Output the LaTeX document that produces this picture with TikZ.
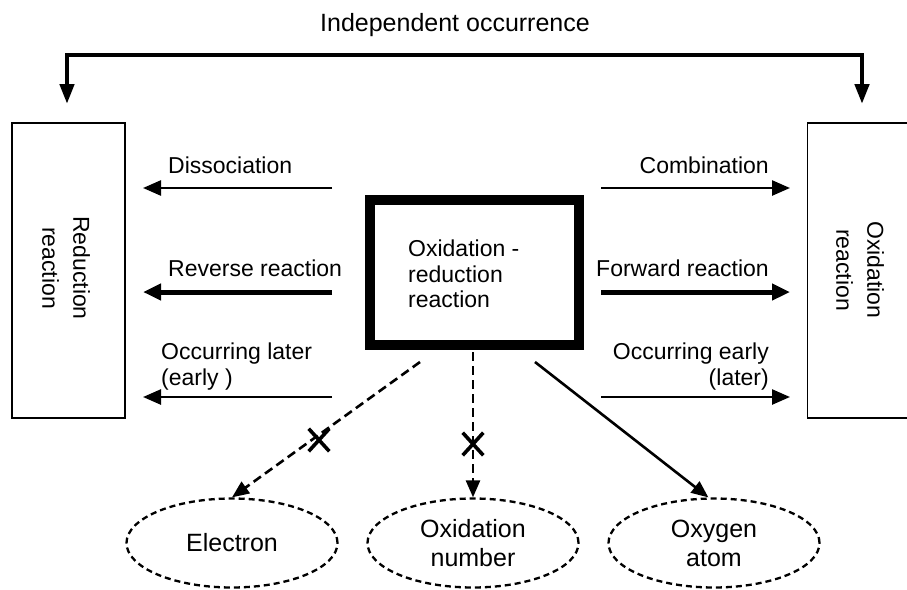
\documentclass[tikz,border=0pt]{standalone}
\usepackage{fontspec}
\setmainfont{Liberation Sans}
\usetikzlibrary{arrows.meta,shapes.geometric,shapes.misc}
\begin{document}
\begin{tikzpicture}[x=1pt,y=-1pt,
  lbl/.style={inner sep=0pt,font=\fontsize{23}{26}\selectfont},
  sidebox/.style={draw,line width=1.6pt,minimum width=113pt,minimum height=295pt,inner sep=0pt},
  rotlbl/.style={rotate=-90,align=center,inner sep=0pt,font=\fontsize{23}{31}\selectfont},
  mainbox/.style={draw,line width=9.5pt,minimum width=209pt,minimum height=145pt,inner sep=0pt},
  oval/.style={ellipse,draw,dash pattern=on 6pt off 4pt,line width=2.3pt,minimum width=211pt,minimum height=89pt,inner sep=0pt,align=center,font=\fontsize{25}{29}\selectfont},
  thinarrow/.style={line width=2.5pt,-{Triangle[length=18pt,width=15pt]}},
  thickarrow/.style={line width=5pt,-{Triangle[length=18pt,width=16pt]}},
  dasharrow/.style={line width=2.6pt,dash pattern=on 9pt off 5pt,-{Triangle[length=17pt,width=14pt]}},
  solidarrow/.style={line width=2.6pt,-{Triangle[length=17pt,width=14pt]}},
  xmark/.style={cross out,draw,line width=3.6pt,minimum width=17pt,minimum height=19pt,inner sep=0pt},
  toparrow/.style={line width=4.5pt,line join=miter,{Triangle[length=20pt,width=14pt]}-{Triangle[length=20pt,width=14pt]}}
]
\useasboundingbox (0,0) rectangle (907,589);

% title
\node[inner sep=0pt,font=\fontsize{25}{28}\selectfont] (title) at (455,25) {Independent occurrence};

% side boxes
\node[sidebox] (red) at (68.5,270.5) {};
\node[rotlbl] (redtxt) at (66,268) {Reduction\\reaction};
\node[sidebox] (oxb) at (864,270.5) {};
\node[rotlbl] (oxtxt) at (860,270) {Oxidation\\reaction};

% top connector
\coordinate (tl) at (67,104);
\coordinate (tr) at (862,104);
\coordinate (ttl) at (67,55);
\coordinate (ttr) at (862,55);
\draw[toparrow] (tl) -- (ttl) -- (ttr) -- (tr);

% main box
\node[mainbox] (main) at (474.5,272.5) {};
\node[lbl,align=left,anchor=west,font=\fontsize{23}{25.5}\selectfont] (maintxt) at (408,274) {Oxidation -\\reduction\\reaction};

% left arrows
\coordinate (l1s) at (332,188); \coordinate (l1e) at (143,188);
\coordinate (l2s) at (332,292); \coordinate (l2e) at (143,292);
\coordinate (l3s) at (332,397); \coordinate (l3e) at (143,397);
\draw[thinarrow] (l1s) -- (l1e);
\draw[thickarrow] (l2s) -- (l2e);
\draw[thinarrow] (l3s) -- (l3e);
\node[lbl,anchor=west] (dis) at (168,165) {Dissociation};
\node[lbl,anchor=west] (rev) at (168,268) {Reverse reaction};
\node[lbl,anchor=west,align=left] (ocl) at (161,367) {Occurring later\\(early )};

% right arrows
\coordinate (r1s) at (601,188); \coordinate (r1e) at (790,188);
\coordinate (r2s) at (601,292); \coordinate (r2e) at (790,292);
\coordinate (r3s) at (601,397); \coordinate (r3e) at (790,397);
\draw[thinarrow] (r1s) -- (r1e);
\draw[thickarrow] (r2s) -- (r2e);
\draw[thinarrow] (r3s) -- (r3e);
\node[lbl,anchor=east] (comb) at (769,165) {Combination};
\node[lbl,anchor=east] (fwd) at (769,268) {Forward reaction};
\node[lbl,anchor=east,align=right] (oce) at (769,367) {Occurring early\\(later)};

% ellipses
\node[oval] (elec) at (232,543) {Electron};
\node[oval] (onum) at (473,543) {Oxidation\\number};
\node[oval] (oxy) at (714,543) {Oxygen\\atom};

% bottom connectors
\coordinate (b1) at (420,362);
\coordinate (b2) at (473,352);
\coordinate (b3) at (535,362);
\draw[dasharrow] (b1) -- (elec.north);
\draw[dasharrow] (b2) -- (onum.north);
\draw[solidarrow] (b3) -- (oxy.97);
\node[xmark] (x1) at (319,440) {};
\node[xmark] (x2) at (473,444) {};
\end{tikzpicture}
\end{document}
